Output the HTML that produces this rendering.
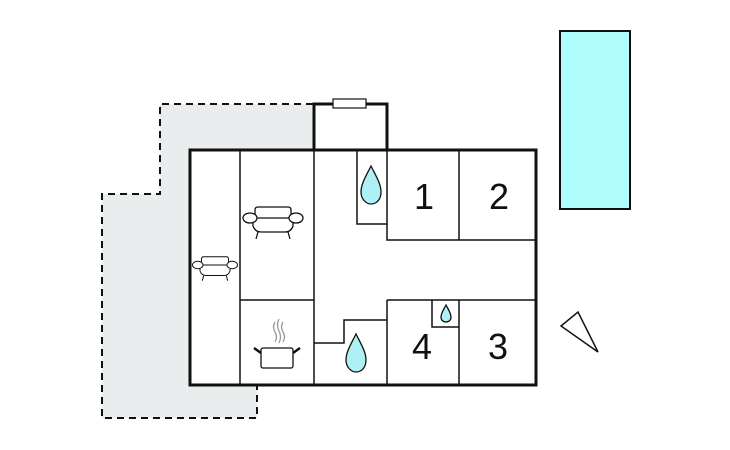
<!DOCTYPE html>
<html><head><style>body{margin:0;background:#fff}svg{display:block}</style></head><body>
<svg width="730" height="450" viewBox="0 0 730 450" xmlns="http://www.w3.org/2000/svg">
<polygon points="160,104 313,104 313,150 190,150 190,385 257,385 257,418 102,418 102,194 160,194" fill="#e9eded"/>
<polyline points="313,104 160,104 160,194 102,194 102,418 257,418 257,386" fill="none" stroke="#111" stroke-width="2" stroke-dasharray="7,5"/>
<rect x="190" y="150" width="346" height="235" fill="#fff"/>
<rect x="313" y="104" width="74" height="46" fill="#fff"/>
<g stroke="#111" stroke-width="1.5" fill="none">
<line x1="240" y1="150" x2="240" y2="385"/>
<line x1="314" y1="150" x2="314" y2="385"/>
<line x1="240" y1="300" x2="314" y2="300"/>
<polyline points="357,150 357,224 387,224 387,150"/>
<polyline points="387,224 387,240 536,240"/>
<line x1="459" y1="150" x2="459" y2="240"/>
<line x1="387" y1="300" x2="536" y2="300"/>
<line x1="387" y1="300" x2="387" y2="385"/>
<line x1="459" y1="300" x2="459" y2="385"/>
<polyline points="432,300 432,327 459,327"/>
<polyline points="314,343 344,343 344,320 387,320"/>
</g>
<g stroke="#111" stroke-width="3" fill="none">
<rect x="190" y="150" width="346" height="235"/>
<polyline points="314,150 314,104 387,104 387,150"/>
</g>
<rect x="333" y="99" width="33" height="9" fill="#fff" stroke="#111" stroke-width="1.2"/>
<g fill="#aef0f4" stroke="#111" stroke-width="1.3">
<path d="M371,166 C366,176 361,184 361,192 C361,199 366,204 371,204 C377,204 381,199 381,192 C381,184 376,176 371,166Z"/>
<path d="M356,334 C351,344 346,352 346,360 C346,367 351,372 356,372 C362,372 366,367 366,360 C366,352 361,344 356,334Z"/>
<path d="M446,305 C444,309 441,313 441,317 C441,320 443,322 446,322 C449,322 451,320 451,317 C451,313 448,309 446,305Z"/>
</g>
<g font-family="Liberation Sans, sans-serif" font-size="36" fill="#111" text-anchor="middle">
<text x="424" y="209">1</text><text x="499" y="209">2</text>
<text x="422" y="359">4</text><text x="498" y="359">3</text>
</g>
<g stroke="#111" stroke-width="1.3" fill="#fff">
<g transform="translate(273,222)">
<path d="M-18,-12 Q-18,-15 -15,-15 L15,-15 Q18,-15 18,-12 L18,-3 L-18,-3Z"/>
<path d="M-20,-4 L20,-4 L20,4 Q18,10 12,10 L-12,10 Q-18,10 -20,4Z"/>
<ellipse cx="-23" cy="-4" rx="7" ry="5"/><ellipse cx="23" cy="-4" rx="7" ry="5"/>
<line x1="-15" y1="10" x2="-17" y2="17"/><line x1="15" y1="10" x2="17" y2="17"/>
</g>
<g transform="translate(215,268) scale(0.75)">
<path d="M-18,-12 Q-18,-15 -15,-15 L15,-15 Q18,-15 18,-12 L18,-3 L-18,-3Z"/>
<path d="M-20,-4 L20,-4 L20,4 Q18,10 12,10 L-12,10 Q-18,10 -20,4Z"/>
<ellipse cx="-23" cy="-4" rx="7" ry="5"/><ellipse cx="23" cy="-4" rx="7" ry="5"/>
<line x1="-15" y1="10" x2="-17" y2="17"/><line x1="15" y1="10" x2="17" y2="17"/>
</g>
<rect x="261" y="348" width="32" height="20" rx="2"/>
<line x1="261" y1="353" x2="254" y2="348" stroke-width="2.5"/>
<line x1="293" y1="353" x2="300" y2="348" stroke-width="2.5"/>
</g>
<g stroke="#999" stroke-width="1.3" fill="none">
<path d="M275,322 q-3,5 0,10 q3,5 0,10"/><path d="M279,319 q-3,6 0,12 q3,6 0,12"/><path d="M283,322 q-3,5 0,10 q3,5 0,10"/>
</g>
<rect x="560" y="31" width="70" height="178" fill="#b0fdfd" stroke="#111" stroke-width="2"/>
<polygon points="561,326 578,312 598,352" fill="#fff" stroke="#111" stroke-width="1.5"/>
</svg>
</body></html>
